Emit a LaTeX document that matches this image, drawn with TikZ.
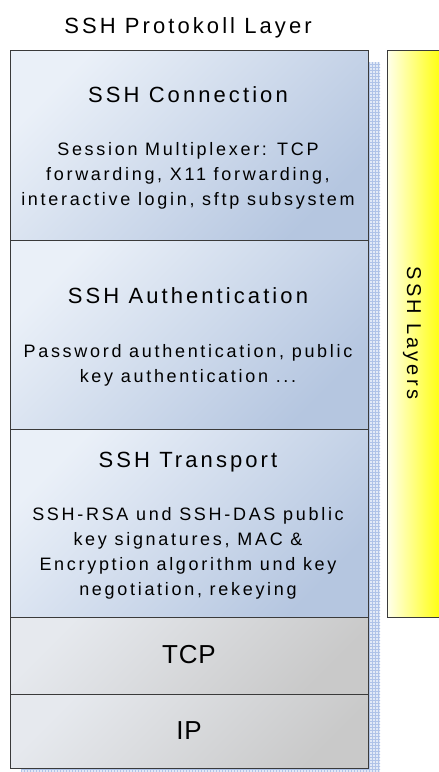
\documentclass[tikz,border=0pt]{standalone}
\usepackage{fontspec}
\setmainfont{Liberation Sans}
\newfontfamily\hfont[LetterSpace=14]{Liberation Sans}
\newfontfamily\bfont[LetterSpace=15]{Liberation Sans}
\newfontfamily\lfont[LetterSpace=16]{Liberation Sans}
\newfontfamily\pfont[LetterSpace=3]{Liberation Sans}
\usetikzlibrary{patterns}
\definecolor{blueL}{HTML}{EAF0F8}
\definecolor{blueD}{HTML}{B5C6E0}
\definecolor{grayL}{HTML}{E6E9EE}
\definecolor{grayD}{HTML}{C9C9C9}
\definecolor{yelL}{HTML}{FFFFEC}
\definecolor{yelD}{HTML}{FFFF14}
\definecolor{shadowc}{HTML}{E2EAF7}
\definecolor{shadowg}{HTML}{AFC3E8}
\definecolor{edge}{HTML}{3A3A3A}
\tikzset{
  layerbox/.style={draw=edge, line width=0.8pt, minimum width=358pt, inner sep=0pt},
  bluebox/.style={layerbox, left color=blueL, right color=blueD, shading angle=45},
  graybox/.style={layerbox, left color=grayL, right color=grayD, shading angle=45},
  headtext/.style={inner sep=0pt, anchor=base, font=\hfont\fontsize{22}{26}\selectfont},
  bodytext/.style={inner sep=0pt, anchor=base, align=center, font=\bfont\fontsize{18}{25}\selectfont},
  bartext/.style={inner sep=0pt, font=\lfont\fontsize{20}{22}\selectfont},
  nettext/.style={inner sep=0pt, anchor=base, font=\pfont\fontsize{26}{30}\selectfont}
}
\begin{document}
\begin{tikzpicture}[x=1pt, y=-1pt]
\useasboundingbox (0,0) rectangle (439,772);
% shadow behind the stack
\fill[shadowc] (21,62) rectangle (380,772);
\fill[pattern=grid, pattern color=shadowg] (21,62) rectangle (380,772);
% yellow side bar
\shade[left color=yelL, right color=yelD] (387,50) rectangle (439,617);
\draw[edge, line width=0.8pt] (439,50) -- (387,50) -- (387,617) -- (439,617);
\coordinate (barcentre) at (412,333);
\node[bartext, rotate=-90] (layers) at (barcentre) {SSH Layers};
% layer boxes
\node[bluebox, minimum height=190pt] (conn) at (189,145) {};
\node[bluebox, minimum height=189pt] (auth) at (189,334.5) {};
\node[bluebox, minimum height=188pt] (trans) at (189,523) {};
\node[graybox, minimum height=77pt] (tcp) at (189,655.5) {};
\node[graybox, minimum height=74pt] (ip) at (189,731) {};
% texts (multi-line nodes: base = baseline of last line)
\node[headtext] (title) at (188,33) {SSH Protokoll Layer};
\node[headtext] (connh) at (188,102) {SSH Connection};
\node[bodytext] (connb) at (188,205) {Session Multiplexer: TCP\\forwarding, X11 forwarding,\\interactive login, sftp subsystem};
\node[headtext] (authh) at (188,303) {SSH Authentication};
\node[bodytext] (authb) at (188,382) {Password authentication, public\\key authentication ...};
\node[headtext] (transh) at (188,467) {SSH Transport};
\node[bodytext] (transb) at (188,595) {SSH-RSA und SSH-DAS public\\key signatures, MAC \&\\Encryption algorithm und key\\negotiation, rekeying};
\node[nettext] (tcpt) at (189,663) {TCP};
\node[nettext] (ipt) at (189,739) {IP};
\end{tikzpicture}
\end{document}
